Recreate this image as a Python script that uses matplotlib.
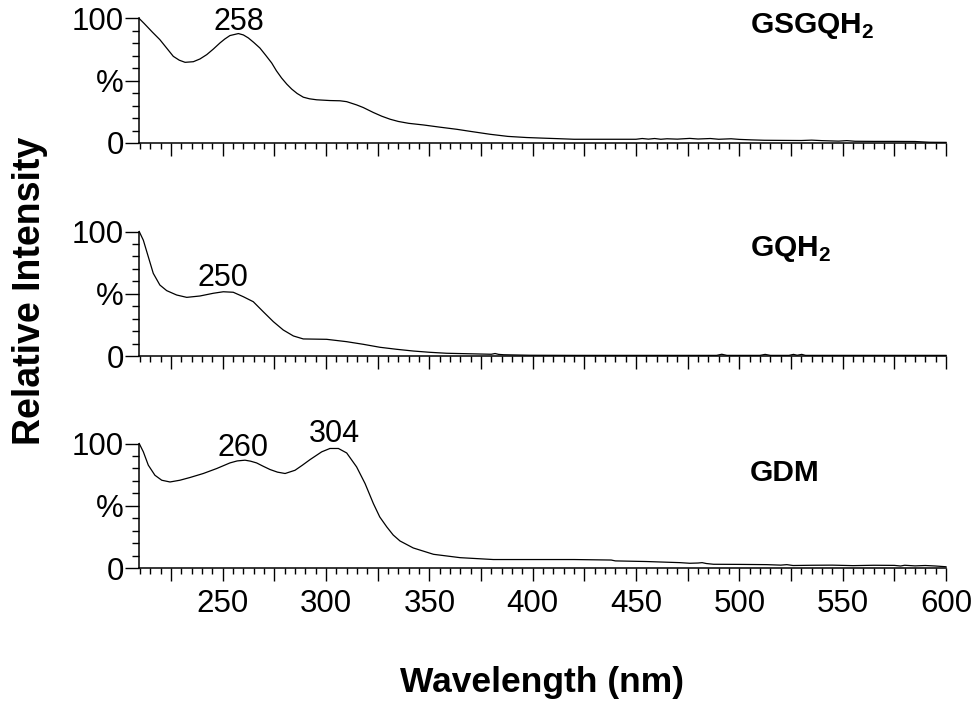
# coding: utf-8
import matplotlib
matplotlib.use('Agg')
import matplotlib.pyplot as plt
from matplotlib.ticker import MultipleLocator, FixedLocator, FuncFormatter

plt.rcParams['font.family'] = ['Liberation Sans', 'DejaVu Sans']
plt.rcParams['mathtext.fontset'] = 'custom'
plt.rcParams['mathtext.rm'] = 'Liberation Sans'
plt.rcParams['mathtext.bf'] = 'Liberation Sans:bold'

#----------- spectra
wl_gsgqh = [209.6, 212, 216, 219.6, 223, 226.1, 229, 231.8, 235.8, 239, 242.3, 245.5, 248.7, 251, 253.5,
	257.6, 260, 262.4, 265, 268, 270.8, 273.7, 276, 278.5, 281, 283.4, 286, 289, 292, 295.5, 301.9,
	306.8, 310, 314.8, 318, 322.9, 327, 331, 335, 340, 347.1, 355.2, 363.3, 370, 379.4, 388, 397,
	405, 412, 420, 435, 450, 453, 456, 459, 462, 465, 470, 476, 480, 486, 490, 496, 500, 506, 512,
	520, 530, 535, 540, 548, 552, 556, 565, 575, 585, 592, 600]
int_gsgqh = [100, 96, 89, 83, 76, 69.6, 66.5, 64.8, 65.3, 67.5, 71, 75.5, 80.4, 83.5, 86.3,
	87.9, 86.8, 84.4, 80.8, 76.3, 70.5, 64.3, 58, 52.2, 47.3, 43.3, 39.8, 36.8, 35.5, 34.7, 34.1,
	33.9, 33.2, 30.6, 28.5, 24.5, 21.5, 19.1, 17.3, 15.8, 14.5, 12.7, 11, 9.3, 7, 5.3, 4.4,
	3.9, 3.5, 3.0, 3.0, 3.0, 3.6, 3.1, 3.6, 3.0, 3.4, 3.1, 3.7, 3.2, 3.6, 3.0, 3.4, 2.9, 2.5, 2.2,
	2.1, 2.0, 2.3, 1.9, 1.5, 1.9, 1.4, 1.3, 1.3, 1.2, 0.6, 0.5]

wl_gqh = [209.6, 211.6, 214, 216.4, 219.6, 222.9, 227.7, 232.6, 239, 245.5, 250.3, 255.1, 260, 264.8,
	269.6, 274.5, 279.3, 284.2, 289, 300.3, 310, 318, 326.1, 334.1, 342.2, 350, 358.3, 374.5, 380,
	381.8, 383.5, 386, 398.7, 420, 450, 489, 491.5, 494, 510, 512.5, 515, 524, 526.2, 528, 530.2,
	532, 560, 600]
int_gqh = [100, 93, 79.7, 66.4, 57, 52.5, 49, 47.1, 48.2, 50.4, 51.6, 51.2, 47.6, 43.6,
	35.6, 27.6, 20.9, 16.1, 13.7, 13.4, 11.5, 9.4, 7, 5.4, 4, 3.0, 2.2, 1.6, 1.4,
	2.0, 1.3, 1.0, 0.6, 0.5, 0.5, 0.5, 1.4, 0.5, 0.5, 1.3, 0.5, 0.5, 1.3, 0.6, 1.3,
	0.5, 0.5, 0.5]

wl_gdm = [209.6, 211.6, 214, 217.2, 220.5, 224.5, 229.3, 234.2, 240.6, 247.1, 253.5, 257, 260.8, 263.5,
	266.4, 269.5, 272.9, 276.5, 280.2, 285, 288.5, 292.3, 297.9, 301.9, 306, 310, 314.8, 318.9,
	322.9, 326, 329.4, 332.5, 335.8, 342.2, 352, 364.9, 381, 398.7, 420, 438, 440, 455, 471.3, 476,
	480, 482, 484, 487.5, 500, 513.3, 520, 523, 526, 535, 545, 555, 565, 575, 578, 580, 585, 590,
	595, 600]
int_gdm = [100, 93.3, 82.6, 74.5, 70.5, 69.1, 70.5, 72.7, 75.9, 79.9, 84.4, 86, 86.6, 85.8,
	84.4, 81.8, 79.1, 77, 75.9, 78.5, 82.5, 87.1, 93.3, 96, 96, 92.4, 81.2, 67.8,
	51.8, 41, 33, 26.5, 21.7, 16.1, 11, 8.3, 6.8, 6.8, 6.8, 6.4, 5.7, 5.2, 4.3, 3.8,
	4.0, 4.3, 3.6, 3.0, 2.9, 2.7, 2.3, 2.7, 2.0, 2.2, 2.3, 1.9, 2.2, 2.1, 1.6, 2.2, 1.7, 2.0,
	1.6, 1.0]

names = ['GSGQH$_\\mathbf{2}$', 'GQH$_\\mathbf{2}$', 'GDM']
name_y = [88.7, 80, 70]
# peak labels: (wavelength, height of text baseline)
peaks_gsgqh = [(258, 91)]
peaks_gqh = [(250, 56)]
peaks_gdm = [(260, 90), (304, 101)]

x_ticklabels = [250, 300, 350, 400, 450, 500, 550, 600]

spectra = [(wl_gsgqh, int_gsgqh, peaks_gsgqh), (wl_gqh, int_gqh, peaks_gqh), (wl_gdm, int_gdm, peaks_gdm)]

fig = plt.figure(figsize=(9.78, 7.08), dpi=100)

left = 139 / 978.
width = (946 - 139) / 978.
height = 124.5 / 708.
bottoms = [1 - 143 / 708., 1 - 356 / 708., 1 - 568 / 708.]

def x_fmt(v, pos):
	if int(round(v)) in x_ticklabels:
		return '%d' % round(v)
	return ''

for i in range(0, 3):
	wl, inten, pk = spectra[i]
	ax = fig.add_axes([left, bottoms[i], width, height])
	ax.plot(wl, inten, color='black', linewidth=0.9, clip_on=False)
	ax.set_xlim(209.5, 600)
	ax.set_ylim(0, 100)
	ax.spines['top'].set_visible(False)
	ax.spines['right'].set_visible(False)
	ax.spines['left'].set_linewidth(1.1)
	ax.spines['bottom'].set_linewidth(1.1)

	ax.yaxis.set_major_locator(FixedLocator([0, 50, 100]))
	ax.set_yticklabels(['0', '%', '100'])
	ax.yaxis.set_minor_locator(MultipleLocator(10))
	ax.xaxis.set_major_locator(MultipleLocator(25))
	ax.xaxis.set_minor_locator(MultipleLocator(5))
	ax.tick_params(axis='y', which='major', direction='out', length=10, width=1.0, pad=1, labelsize=22.5)
	ax.tick_params(axis='y', which='minor', direction='out', length=5, width=1.0)
	ax.tick_params(axis='x', which='major', direction='out', length=9, width=1.0, pad=6, labelsize=22.5)
	ax.tick_params(axis='x', which='minor', direction='out', length=4.5, width=1.0)
	if i == 2:
		ax.xaxis.set_major_formatter(FuncFormatter(x_fmt))
	else:
		ax.tick_params(axis='x', labelbottom=False)

	for p in pk:
		ax.text(p[0], p[1], '%d' % p[0], ha='center', va='baseline', fontsize=22)
	ax.text(505, name_y[i], names[i], ha='left', va='baseline', fontsize=21.5, fontweight='bold')

fig.text(40 / 978., 1 - 291 / 708., 'Relative Intensity', rotation=90, rotation_mode='anchor',
	ha='center', va='baseline', fontsize=27, fontweight='bold')
fig.text(542.5 / 978., 1 - 692 / 708., 'Wavelength (nm)', ha='center', va='baseline',
	fontsize=25.5, fontweight='bold')

plt.savefig('out.png', dpi=100)
